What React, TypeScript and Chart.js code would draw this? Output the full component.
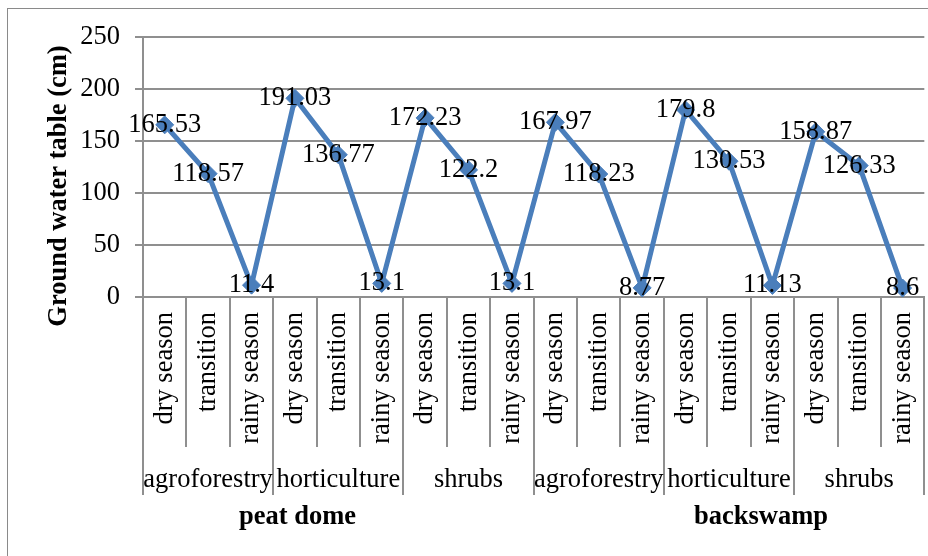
import React, { useEffect, useRef } from 'react';
import { Chart, registerables } from 'chart.js';

Chart.register(...registerables);

// ---- data ----
const seasons: string[] = [
  'dry season', 'transition', 'rainy season',
  'dry season', 'transition', 'rainy season',
  'dry season', 'transition', 'rainy season',
  'dry season', 'transition', 'rainy season',
  'dry season', 'transition', 'rainy season',
  'dry season', 'transition', 'rainy season',
];
const landUses: string[] = ['agroforestry', 'horticulture', 'shrubs', 'agroforestry', 'horticulture', 'shrubs'];
const landforms: string[] = ['peat dome', 'backswamp'];
const waterTable: number[] = [
  165.53, 118.57, 11.4,
  191.03, 136.77, 13.1,
  172.23, 122.2, 13.1,
  167.97, 118.23, 8.77,
  179.8, 130.53, 11.13,
  158.87, 126.33, 8.6,
];
const yMin = 0;
const yMax = 250;
const yStep = 50;
const yTitle = 'Ground water table (cm)';

const FONT = "'Liberation Serif', 'Times New Roman', serif";
const FS = 26.5;
const LINE = '#4A7EBB';
const GRID = '#8f8f8f';

const W = 950;
const H = 556;

const decor = {
  id: 'decor',
  beforeDraw(chart: any) {
    const ctx = chart.ctx;
    ctx.save();
    ctx.strokeStyle = '#8a8a8a';
    ctx.lineWidth = 1;
    ctx.strokeRect(7.5, 8.5, W + 20, H + 20);
    ctx.restore();
  },
  afterDatasetsDraw(chart: any) {
    const ctx = chart.ctx;
    const meta = chart.getDatasetMeta(0);
    ctx.save();
    ctx.font = `${FS}px ${FONT}`;
    ctx.fillStyle = '#000';
    ctx.textAlign = 'center';
    ctx.textBaseline = 'middle';
    meta.data.forEach((pt: any, i: number) => {
      ctx.fillText(String(waterTable[i]), pt.x, pt.y);
    });
    ctx.restore();
  },
  afterDraw(chart: any) {
    const ctx = chart.ctx;
    const xs = chart.scales.x;
    const ys = chart.scales.y;
    const area = chart.chartArea;
    const n = seasons.length;
    const cw = (xs.right - xs.left) / n;
    const axisY = area.bottom;
    ctx.save();
    // separators
    ctx.strokeStyle = GRID;
    ctx.lineWidth = 2;
    for (let i = 0; i <= n; i++) {
      const x = Math.round(xs.left + i * cw);
      const len = i % 3 === 0 ? 198 : 150;
      ctx.beginPath();
      ctx.moveTo(x, axisY);
      ctx.lineTo(x, axisY + len);
      ctx.stroke();
    }
    // land-use group labels
    ctx.fillStyle = '#000';
    ctx.textAlign = 'center';
    ctx.textBaseline = 'middle';
    ctx.font = `${FS}px ${FONT}`;
    landUses.forEach((lab, g) => {
      const cx = (xs.getPixelForValue(g * 3) + xs.getPixelForValue(g * 3 + 2)) / 2;
      ctx.fillText(lab, cx, axisY + 183);
    });
    // landform labels
    ctx.font = `bold ${FS}px ${FONT}`;
    const lfPos = [0.1977, 0.791];
    landforms.forEach((lab, g) => {
      ctx.fillText(lab, xs.getPixelForDecimal(lfPos[g]), axisY + 220);
    });
    // y title
    ctx.translate(ys.left + 59, (area.top + area.bottom) / 2 + 19);
    ctx.rotate(-Math.PI / 2);
    ctx.fillText(yTitle, 0, 0);
    ctx.restore();
  },
};

export default function App() {
  const ref = useRef<HTMLCanvasElement>(null);
  useEffect(() => {
    document.body.style.margin = '0';
    document.body.style.overflow = 'hidden';
    Chart.defaults.font.family = FONT;
    const chart = new Chart(ref.current as HTMLCanvasElement, {
      type: 'line',
      data: {
        labels: seasons,
        datasets: [
          {
            data: waterTable,
            borderColor: LINE,
            backgroundColor: LINE,
            borderWidth: 5,
            pointStyle: 'rectRot',
            pointRadius: 9,
            pointHoverRadius: 9,
            pointBackgroundColor: LINE,
            pointBorderColor: LINE,
            pointBorderWidth: 1,
            tension: 0,
            fill: false,
          },
        ],
      },
      options: {
        animation: false,
        responsive: false,
        devicePixelRatio: 1,
        layout: { padding: { left: 0, top: 37, right: W - 929, bottom: 0 } },
        plugins: { legend: { display: false }, tooltip: { enabled: false } },
        scales: {
          x: {
            type: 'category',
            offset: true,
            grid: { display: true, drawOnChartArea: false, drawTicks: false, color: GRID, lineWidth: 2 },
            border: { display: true, color: GRID, width: 2 },
            ticks: {
              autoSkip: false,
              minRotation: 90,
              maxRotation: 90,
              padding: 15,
              color: '#000',
              font: { family: FONT, size: FS },
            },
            afterFit: (s: any) => {
              s.height = H - 297;
            },
          },
          y: {
            min: yMin,
            max: yMax,
            grid: { color: GRID, lineWidth: 2, tickLength: 8, drawTicks: true },
            border: { display: true, color: GRID, width: 2 },
            ticks: {
              stepSize: yStep,
              padding: 15,
              color: '#000',
              font: { family: FONT, size: FS },
            },
            afterFit: (s: any) => {
              s.width = 143;
            },
          },
        },
      },
      plugins: [decor],
    });
    return () => chart.destroy();
  }, []);
  return (
    <div style={{ width: W, height: H, position: 'relative', background: '#fff' }}>
      <canvas ref={ref} width={W} height={H} style={{ display: 'block', width: W, height: H }} />
    </div>
  );
}
